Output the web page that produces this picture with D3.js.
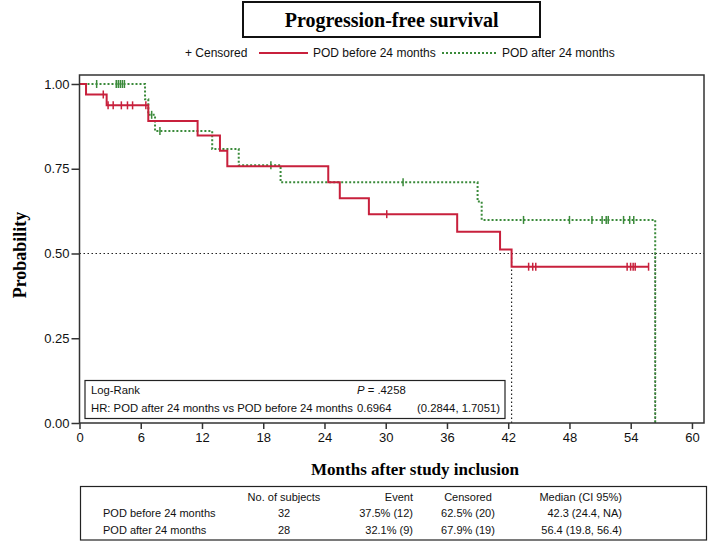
<!DOCTYPE html>
<html><head><meta charset="utf-8">
<script src="https://cdnjs.cloudflare.com/ajax/libs/d3/7.8.5/d3.min.js"></script>
<style>body{margin:0;background:#fff}svg{display:block}</style>
</head><body>
<svg id="c" width="709" height="542"></svg>
<script>
// ---- data ----
const xTicks = [0,6,12,18,24,30,36,42,48,54,60];
const yTicks = [0,0.25,0.5,0.75,1.0];
const seriesNames = ["POD before 24 months","POD after 24 months"];
// POD before 24 months: step times & survival after each step
const redTimes = [0,0.64,2.66,6.74,11.57,13.76,14.48,24.37,25.5,28.35,37.0,41.2,42.33];
const redSurv  = [1,0.969,0.937,0.891,0.848,0.803,0.757,0.710,0.663,0.616,0.564,0.512,0.461];
const redEnd = 55.75;
const redCensor = [2.33,2.8,3.3,4.1,4.7,5.2,6.5,30.1,44.0,44.4,44.7,53.65,53.99,54.24,54.44,55.75];
// POD after 24 months
const greenTimes = [0,6.42,6.74,7.4,13.0,15.6,19.7,39.0,39.4,56.4];
const greenSurv  = [1,0.955,0.909,0.861,0.808,0.760,0.710,0.653,0.599,0];
const greenEnd = 56.4;
const greenCensor = [1.68,3.6,3.8,4.0,4.2,4.4,7.07,7.88,18.75,31.7,43.5,48.0,50.2,51.2,51.6,51.8,53.3,53.9,54.3];
const medians = [42.33,56.4];
const tableHeader = ["No. of subjects","Event","Censored","Median (CI 95%)"];
const tableRows = [
  ["POD before 24 months","32","37.5% (12)","62.5% (20)","42.3 (24.4, NA)"],
  ["POD after 24 months","28","32.1% (9)","67.9% (19)","56.4 (19.8, 56.4)"]
];
const logRankP = ".4258";
const hrText = ["HR: POD after 24 months vs POD before 24 months","0.6964","(0.2844, 1.7051)"];

const RED = "#c8203c", GREEN = "#3a8a3a";
const SANS = "'Liberation Sans', Arial, sans-serif";
const SERIF = "'Liberation Serif', 'Times New Roman', serif";

const svg = d3.select("#c");
const L = 79.5, R = 704, T = 75, B = 423;
const x = d3.scaleLinear().domain([0,61.18]).range([L,R]);
const y = d3.scaleLinear().domain([0,1.0265]).range([B,T]);

// title
svg.append("rect").attr("x",243).attr("y",2).attr("width",297).attr("height",35)
  .attr("fill","none").attr("stroke","#111").attr("stroke-width",2);
svg.append("text").attr("x",(L+R)/2).attr("y",27).attr("text-anchor","middle")
  .attr("font-family",SERIF).attr("font-weight","bold").attr("font-size",20).text("Progression-free survival");

// legend
const lg = svg.append("g").attr("font-family",SANS).attr("font-size",12).attr("fill","#111");
lg.append("text").attr("x",185).attr("y",57).text("+ Censored");
lg.append("line").attr("x1",259).attr("x2",308).attr("y1",53).attr("y2",53).attr("stroke",RED).attr("stroke-width",2);
lg.append("text").attr("x",313).attr("y",57).text(seriesNames[0]);
lg.append("line").attr("x1",442).attr("x2",498).attr("y1",53).attr("y2",53).attr("stroke",GREEN).attr("stroke-width",2).attr("stroke-dasharray","2,2");
lg.append("text").attr("x",502).attr("y",57).text(seriesNames[1]);

// axes
const xAxis = d3.axisBottom(x).tickValues(xTicks).tickSize(6).tickPadding(4).tickFormat(d3.format("d"));
const gx = svg.append("g").attr("transform",`translate(0,${B})`).call(xAxis);
const yAxis = d3.axisLeft(y).tickValues(yTicks).tickSize(8).tickPadding(2).tickFormat(d3.format(".2f"));
const gy = svg.append("g").attr("transform",`translate(${L},0)`).call(yAxis);
[gx,gy].forEach(g=>{
  g.select(".domain").remove();
  g.selectAll("line").attr("stroke","#333").attr("stroke-width",1.5);
  g.selectAll("text").attr("font-family",SANS).attr("font-size",13).attr("fill","#111");
});

// reference lines
const ref = svg.append("g").attr("stroke","#222").attr("stroke-width",1.2).attr("stroke-dasharray","1.5,2.5").attr("fill","none");
ref.append("line").attr("x1",L).attr("x2",R).attr("y1",y(0.5)).attr("y2",y(0.5));
medians.forEach(m=>ref.append("line").attr("x1",x(m)).attr("x2",x(m)).attr("y1",y(0.5)).attr("y2",B));

// curves
const step = d3.line().x(d=>x(d[0])).y(d=>y(d[1])).curve(d3.curveStepAfter);
function pts(times,surv,end){const p=times.map((t,i)=>[t,surv[i]]); if(end>times[times.length-1]) p.push([end,surv[surv.length-1]]); return p;}
function sAt(times,surv,t){let s=surv[0];for(let i=0;i<times.length;i++){if(times[i]<=t)s=surv[i];}return s;}

svg.append("path").attr("d",step(pts(greenTimes,greenSurv,greenEnd))).attr("fill","none")
  .attr("stroke",GREEN).attr("stroke-width",2).attr("stroke-dasharray","2,2");
svg.append("g").selectAll("line").data(greenCensor).join("line")
  .attr("x1",d=>x(d)).attr("x2",d=>x(d))
  .attr("y1",d=>y(sAt(greenTimes,greenSurv,d))-4).attr("y2",d=>y(sAt(greenTimes,greenSurv,d))+4)
  .attr("stroke",GREEN).attr("stroke-width",1.5);

svg.append("path").attr("d",step(pts(redTimes,redSurv,redEnd))).attr("fill","none")
  .attr("stroke",RED).attr("stroke-width",2);
svg.append("g").selectAll("line").data(redCensor).join("line")
  .attr("x1",d=>x(d)).attr("x2",d=>x(d))
  .attr("y1",d=>y(sAt(redTimes,redSurv,d))-4).attr("y2",d=>y(sAt(redTimes,redSurv,d))+4)
  .attr("stroke",RED).attr("stroke-width",1.5);

// frame
svg.append("rect").attr("x",L).attr("y",T).attr("width",R-L).attr("height",B-T)
  .attr("fill","none").attr("stroke","#333").attr("stroke-width",1.5);

// inset
const ins = svg.append("g").attr("font-family",SANS).attr("font-size",11.3).attr("fill","#111");
ins.append("rect").attr("x",85).attr("y",380.5).attr("width",420).attr("height",38)
  .attr("fill","#fff").attr("stroke","#222").attr("stroke-width",1.2);
ins.append("text").attr("x",91).attr("y",393.5).text("Log-Rank");
const pt = ins.append("text").attr("x",357).attr("y",393.5);
pt.append("tspan").attr("font-style","italic").text("P");
pt.append("tspan").text(" = "+logRankP);
ins.append("text").attr("x",91).attr("y",411.5).text(hrText[0]);
ins.append("text").attr("x",357).attr("y",411.5).text(hrText[1]);
ins.append("text").attr("x",500).attr("y",411.5).attr("text-anchor","end").text(hrText[2]);

// axis titles
svg.append("text").attr("x",415).attr("y",475).attr("text-anchor","middle")
  .attr("font-family",SERIF).attr("font-weight","bold").attr("font-size",17).text("Months after study inclusion");
svg.append("text").attr("transform","translate(26,255) rotate(-90)").attr("text-anchor","middle")
  .attr("font-family",SERIF).attr("font-weight","bold").attr("font-size",18).text("Probability");

// table
const tb = svg.append("g").attr("font-family",SANS).attr("font-size",11).attr("fill","#111");
tb.append("rect").attr("x",80.5).attr("y",486.5).attr("width",626).attr("height",53.5)
  .attr("fill","none").attr("stroke","#222").attr("stroke-width",1.2);
const colX = [103,284,413,468,622], colA = ["start","middle","end","middle","end"];
const hy = 501, ry = [517,534];
tableHeader.forEach((h,i)=>tb.append("text").attr("x",colX[i+1]).attr("y",hy).attr("text-anchor",colA[i+1]).text(h));
tableRows.forEach((r,j)=>r.forEach((c,i)=>tb.append("text").attr("x",colX[i]).attr("y",ry[j]).attr("text-anchor",colA[i]).text(c)));
</script>
</body></html>
